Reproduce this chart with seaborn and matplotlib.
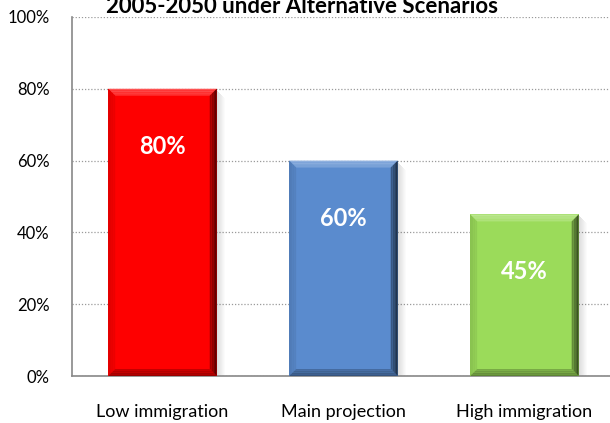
import matplotlib
matplotlib.use("Agg")
import matplotlib.pyplot as plt
import matplotlib.colors as mcolors
from matplotlib.patches import Polygon, Rectangle
import seaborn as sns
import pandas as pd

# Scenario data
scenarios = ["Low immigration", "Main projection", "High immigration"]
shares = [80, 60, 45]
bar_colors = ["#FE0000", "#5A8BCE", "#9BDB5A"]
y_ticks = [0, 20, 40, 60, 80, 100]
y_tick_labels = [f"{v}%" for v in y_ticks]
title = "2005-2050 under Alternative Scenarios"

df = pd.DataFrame({"scenario": scenarios, "share": shares})

sns.set_theme(style="white")
plt.rcParams["font.family"] = ["Lato", "DejaVu Sans"]

fig = plt.figure(figsize=(6.1, 4.23), dpi=100)
ax = fig.add_axes([0.118, 0.111, 0.890, 0.849])

sns.barplot(data=df, x="scenario", y="share", hue="scenario",
            palette=bar_colors, width=0.6, saturation=1, legend=False,
            edgecolor="none", linewidth=0, ax=ax, zorder=3)

ax.set_xlim(-0.5, 2.5)
ax.set_ylim(0, 100)

# pixel -> data scale helpers for bevel/shadow sizes
ax_w_px = 0.890 * 610
ax_h_px = 0.849 * 423
px_x = 3.0 / ax_w_px
px_y = 100.0 / ax_h_px


def shade(color, f):
    r, g, b = mcolors.to_rgb(color)
    if f >= 0:
        return (r + (1 - r) * f, g + (1 - g) * f, b + (1 - b) * f)
    return (r * (1 + f), g * (1 + f), b * (1 + f))


def frame(x0, x1, y0, y1, inset):
    """Four trapezoid faces of a bevel ring, from the outer edge inwards."""
    ix, iy = inset * px_x, inset * px_y
    return {
        "top": [(x0, y1), (x1, y1), (x1 - ix, y1 - iy), (x0 + ix, y1 - iy)],
        "left": [(x0, y0), (x0, y1), (x0 + ix, y1 - iy), (x0 + ix, y0 + iy)],
        "right": [(x1, y0), (x1, y1), (x1 - ix, y1 - iy), (x1 - ix, y0 + iy)],
        "bottom": [(x0, y0), (x1, y0), (x1 - ix, y0 + iy), (x0 + ix, y0 + iy)],
    }


face_shade = {"top": 0.32, "left": -0.12, "right": -0.62, "bottom": -0.40}

for patch, col in zip(ax.patches, bar_colors):
    x0 = patch.get_x()
    w = patch.get_width()
    h = patch.get_height()
    x1 = x0 + w
    # soft drop shadow on the right of the bar
    for i in range(8):
        a = 0.13 * (1 - i / 8)
        ax.add_patch(Rectangle((x1 + i * px_x, 0), px_x, h - (i + 2) * px_y,
                               facecolor="black", alpha=a, lw=0, zorder=2))
    # graded bevel: several nested rings fading toward the bar colour
    steps = 4
    depth = 7
    for k in range(steps):
        t = 1 - k / steps
        off = depth * k / steps
        ring = frame(x0 + off * px_x, x1 - off * px_x,
                     off * px_y, h - off * px_y, depth / steps)
        for name, pts in ring.items():
            fc = shade(col, face_shade[name] * (0.45 + 0.55 * t))
            ax.add_patch(Polygon(pts, closed=True, facecolor=fc, lw=0, zorder=4))
    # value label inside the bar
    ax.text(x0 + w / 2, h - 16, f"{int(round(h))}%", ha="center", va="center",
            color="white", fontsize=17, fontweight="bold", zorder=5)

# gridlines
ax.yaxis.grid(True, linestyle=(0, (1, 1.5)), color="#9a9a9a", linewidth=0.9, zorder=0)
ax.set_axisbelow(True)

ax.set_yticks(y_ticks)
ax.set_yticklabels(y_tick_labels, fontsize=12, color="black")
ax.tick_params(axis="y", direction="out", length=5, width=1, color="#888888", pad=11)

# category labels centred, tick marks at category boundaries
ax.set_xticks([0, 1, 2])
ax.set_xticklabels(scenarios, fontsize=13, color="black")
ax.tick_params(axis="x", which="major", length=0, pad=20)
ax.set_xticks([-0.5, 0.5, 1.5, 2.5], minor=True)
ax.tick_params(axis="x", which="minor", direction="out", length=5, width=1, color="#888888")

ax.set_xlabel("")
ax.set_ylabel("")

for s in ["top", "right"]:
    ax.spines[s].set_visible(False)
for s in ["left", "bottom"]:
    ax.spines[s].set_color("#888888")
    ax.spines[s].set_linewidth(1.2)

fig.text(0.495, 0.985, title, ha="center", va="center",
         fontsize=16, fontweight="bold", color="black")

fig.savefig("out.png", dpi=100)
